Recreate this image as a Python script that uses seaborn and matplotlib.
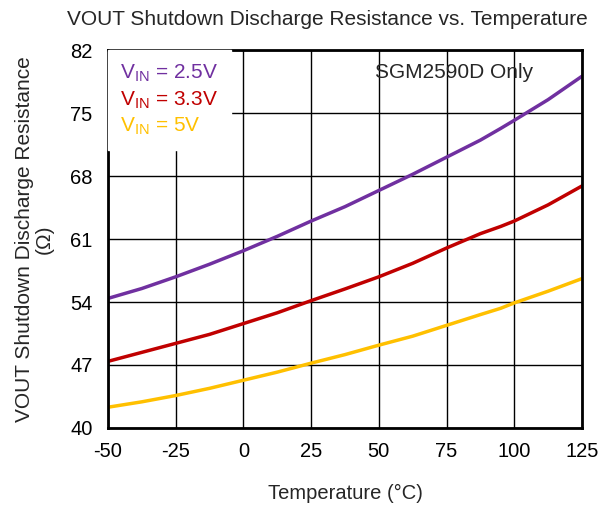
import pandas as pd
import matplotlib
matplotlib.use("Agg")
import matplotlib.pyplot as plt
import seaborn as sns

# values
temps = [-50, -37.5, -25, -12.5, 0, 12.5, 25, 37.5, 50, 62.5, 75, 87.5, 95, 100, 112.5, 125]
r_25v = [54.4, 55.5, 56.8, 58.2, 59.7, 61.3, 63.0, 64.6, 66.4, 68.2, 70.1, 72.0, 73.3, 74.2, 76.5, 79.1]
r_33v = [47.4, 48.4, 49.4, 50.4, 51.6, 52.8, 54.15, 55.45, 56.8, 58.3, 60.0, 61.6, 62.4, 63.0, 64.8, 66.9]
r_5v = [42.3, 42.9, 43.6, 44.4, 45.3, 46.2, 47.2, 48.15, 49.2, 50.2, 51.4, 52.6, 53.3, 53.9, 55.2, 56.6]

labels = [r"$\mathregular{V_{IN}}$ = 2.5V", r"$\mathregular{V_{IN}}$ = 3.3V", r"$\mathregular{V_{IN}}$ = 5V"]
colors = ["#7030A0", "#C00000", "#FFC000"]

df = pd.DataFrame({
    "Temp": temps * 3,
    "R": r_25v + r_33v + r_5v,
    "Vin": [labels[0]] * len(temps) + [labels[1]] * len(temps) + [labels[2]] * len(temps),
})

sns.set_style("white")
plt.rcParams['font.family'] = ['Liberation Sans', 'DejaVu Sans']
plt.rcParams['mathtext.fontset'] = 'custom'
plt.rcParams['mathtext.rm'] = 'Liberation Sans'
plt.rcParams['axes.unicode_minus'] = False

fig = plt.figure(figsize=(6.1, 5.07), dpi=100)
ax = fig.add_axes([0.177, 0.156, 0.777, 0.745])

sns.lineplot(data=df, x="Temp", y="R", hue="Vin", palette=colors, linewidth=2.5, ax=ax)

ax.set_xlim(-50, 125)
ax.set_ylim(40, 82)
ax.set_xticks([-50, -25, 0, 25, 50, 75, 100, 125])
ax.set_yticks([40, 47, 54, 61, 68, 75, 82])
ax.grid(True, color="black", linewidth=1.0)
ax.set_axisbelow(True)
for s in ax.spines.values():
    s.set_linewidth(2)
    s.set_color("black")
ax.tick_params(axis="x", length=0, labelsize=14.5, pad=10, colors="black")
ax.tick_params(axis="y", length=0, labelsize=14.5, pad=11, colors="black")

ax.set_xlabel("Temperature (°C)", fontsize=14.5, labelpad=17)
ax.set_ylabel("VOUT Shutdown Discharge Resistance\n(Ω)", fontsize=15, labelpad=12, linespacing=1.05)
ax.set_title("VOUT Shutdown Discharge Resistance vs. Temperature", fontsize=15, pad=18, x=0.462)

leg = ax.legend(loc="upper left", bbox_to_anchor=(0, 1), handlelength=0, handletextpad=0,
                frameon=True, fancybox=False, edgecolor="white", framealpha=1, fontsize=15,
                labelcolor="linecolor", borderaxespad=0.0, labelspacing=0.25, borderpad=0.6)
for h in leg.legend_handles:
    h.set_visible(False)

ax.text(0.897, 0.965, "SGM2590D Only", transform=ax.transAxes, ha="right", va="top", fontsize=15)

fig.savefig("out.png", dpi=100)
